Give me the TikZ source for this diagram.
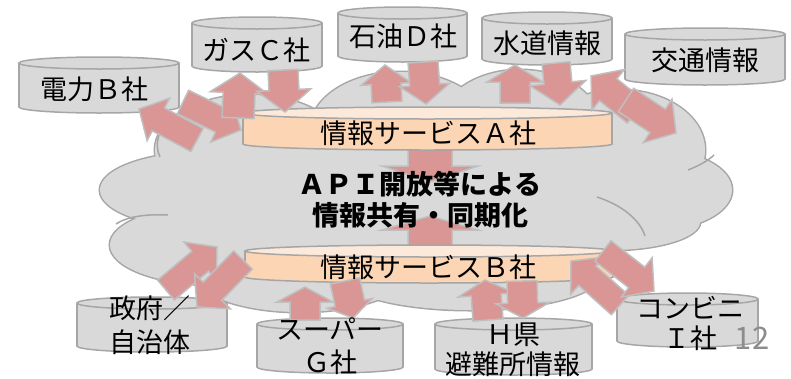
\documentclass[tikz,border=0pt]{standalone}
\usepackage{fontspec}
\setmainfont{Noto Sans CJK JP}
\usetikzlibrary{calc}
\definecolor{cloudfill}{HTML}{D9D9D9}
\definecolor{cloudline}{HTML}{A6A6A6}
\definecolor{arrowfill}{HTML}{D99694}
\definecolor{arrowline}{HTML}{BFBFBF}
\definecolor{orangebody}{HTML}{FCD5B5}
\definecolor{orangetop}{HTML}{FDE9D9}
\definecolor{pagenum}{HTML}{8C8C8C}
\tikzset{
  cylline/.style={draw=cloudline, line width=1.5pt},
  innerarc/.style={draw=cloudline, line width=1.5pt},
  blockarrow/.style={draw=arrowline, fill=arrowfill, line width=1.5pt, line join=miter},
  lbl/.style={inner sep=0pt, align=center, text=black},
}
\newcommand\cyl[6]{%
  \pgfmathsetmacro\ccx{(#1+#3)/2}%
  \pgfmathsetmacro\crx{(#3-#1)/2}%
  \pgfmathsetmacro\cyt{#2+6}%
  \pgfmathsetmacro\cyb{#4-6}%
  \draw[cylline, fill=#5] (\ccx,\cyb) ellipse ({\crx} and {6});
  \fill[#5] (#1,\cyt) rectangle (#3,\cyb);
  \draw[cylline] (#1,\cyt) -- (#1,\cyb) (#3,\cyt) -- (#3,\cyb);
  \draw[cylline, fill=#6] (\ccx,\cyt) ellipse ({\crx} and {6});
}
\newcommand\barrow[5]{%
  \coordinate (bn) at ($(#2)!#5!(#1)$);
  \draw[blockarrow] ($(#1)!#3!90:(#2)$) -- ($(bn)!#3!90:(#2)$) -- ($(bn)!#4!90:(#2)$) -- (#2)
    -- ($(bn)!#4!-90:(#2)$) -- ($(bn)!#3!-90:(#2)$) -- ($(#1)!#3!-90:(#2)$) -- cycle;
}
\begin{document}
\begin{tikzpicture}[x=1pt,y=-1pt, font=\fontsize{27}{30}\selectfont]
\useasboundingbox (0,0) rectangle (791,378);
% cloud
\foreach \ex/\ey/\ea/\eb in {250/150/95/55, 205/190/105/38, 215/245/105/40, 300/270/110/42, 470/275/130/35,
  400/130/90/58, 520/125/80/55, 620/150/85/60, 655/190/77/40, 610/222/90/28, 420/195/250/80}
  \draw[cloudline, line width=3pt] (\ex,\ey) ellipse ({\ea} and {\eb});
\foreach \ex/\ey/\ea/\eb in {250/150/95/55, 205/190/105/38, 215/245/105/40, 300/270/110/42, 470/275/130/35,
  400/130/90/58, 520/125/80/55, 620/150/85/60, 655/190/77/40, 610/222/90/28, 420/195/250/80}
  \fill[cloudfill] (\ex,\ey) ellipse ({\ea} and {\eb});
% inner arcs of the cloud
\coordinate (ia1s) at (160,157); \coordinate (ia1e) at (172,118);
\draw[innerarc] (ia1s) .. controls (154,145) and (158,128) .. (ia1e);
\coordinate (ia2s) at (116,224); \coordinate (ia2e) at (168,215);
\draw[innerarc] (ia2s) .. controls (128,216) and (148,214) .. (ia2e);
\coordinate (ia3s) at (688,170); \coordinate (ia3e) at (714,155);
\draw[innerarc] (ia3s) .. controls (698,166) and (708,161) .. (ia3e);
\coordinate (ia4s) at (597,197); \coordinate (ia4e) at (645,236);
\draw[innerarc] (ia4s) .. controls (622,205) and (640,220) .. (ia4e);
% arrows to/from centre (behind A and B)
\coordinate (cAt) at (430,140); \coordinate (cAh) at (430,182);
\coordinate (cBt) at (430,252); \coordinate (cBh) at (430,216);
\barrow{cAt}{cAh}{22pt}{48pt}{16pt}
\barrow{cBt}{cBh}{22pt}{48pt}{14pt}
% cylinders
\cyl{19}{57}{179}{113}{cloudfill}{cloudfill}
\cyl{192}{17}{322}{72}{cloudfill}{cloudfill}
\cyl{338}{7}{467}{62}{cloudfill}{cloudfill}
\cyl{482}{12}{612}{65}{cloudfill}{cloudfill}
\cyl{625}{28}{785}{85}{cloudfill}{cloudfill}
\cyl{243}{107}{612}{150}{orangebody}{orangetop}
\cyl{245}{245}{613}{283}{orangebody}{orangetop}
\cyl{77}{297}{227}{352}{cloudfill}{cloudfill}
\cyl{257}{318}{403}{373}{cloudfill}{cloudfill}
\cyl{435}{318}{592}{375}{cloudfill}{cloudfill}
\cyl{617}{293}{758}{347}{cloudfill}{cloudfill}
% arrow end points
\coordinate (a1t) at (197,140); \coordinate (a1h) at (139,109);
\coordinate (a2t) at (183,102); \coordinate (a2h) at (241,130);
\coordinate (a3t) at (238,118); \coordinate (a3h) at (240,73);
\coordinate (a4t) at (283,70);  \coordinate (a4h) at (285,112);
\coordinate (a5t) at (387,102); \coordinate (a5h) at (385,65);
\coordinate (a6t) at (423,62);  \coordinate (a6h) at (426,104);
\coordinate (a7t) at (515,103); \coordinate (a7h) at (515,65);
\coordinate (a8t) at (556,63);  \coordinate (a8h) at (560,105);
\coordinate (a9t) at (636,112); \coordinate (a9h) at (591,76);
\coordinate (a10t) at (626,100); \coordinate (a10h) at (676,133);
\coordinate (a12t) at (166,290); \coordinate (a12h) at (217,247);
\coordinate (a13t) at (243,260); \coordinate (a13h) at (197,307);
\coordinate (a14t) at (305,320); \coordinate (a14h) at (305,287);
\coordinate (a15t) at (345,281); \coordinate (a15h) at (353,318);
\coordinate (a16t) at (488,320); \coordinate (a16h) at (485,280);
\coordinate (a17t) at (522,281); \coordinate (a17h) at (523,318);
\coordinate (a18t) at (620,305); \coordinate (a18h) at (571,261);
\coordinate (a19t) at (603,251); \coordinate (a19h) at (654,291);
\barrow{a1t}{a1h}{13pt}{24pt}{22pt}
\barrow{a2t}{a2h}{13pt}{24pt}{22pt}
\barrow{a3t}{a3h}{16pt}{29pt}{20pt}
\barrow{a4t}{a4h}{15pt}{27pt}{22pt}
\barrow{a5t}{a5h}{15pt}{25pt}{19pt}
\barrow{a6t}{a6h}{15pt}{25pt}{19pt}
\barrow{a7t}{a7h}{15pt}{28pt}{17pt}
\barrow{a8t}{a8h}{14pt}{28pt}{22pt}
\barrow{a9t}{a9h}{14pt}{26pt}{22pt}
\barrow{a10t}{a10h}{14pt}{26pt}{22pt}
\barrow{a12t}{a12h}{13pt}{25pt}{22pt}
\barrow{a13t}{a13h}{13pt}{25pt}{22pt}
\barrow{a14t}{a14h}{15pt}{28pt}{15pt}
\barrow{a15t}{a15h}{15pt}{23pt}{15pt}
\barrow{a16t}{a16h}{15pt}{28pt}{15pt}
\barrow{a17t}{a17h}{15pt}{27pt}{15pt}
\barrow{a18t}{a18h}{13pt}{25pt}{22pt}
\barrow{a19t}{a19h}{13pt}{25pt}{22pt}
% labels
\node[lbl] (denryoku) at (94,89) {電力Ｂ社};
\node[lbl] (gas) at (256,50) {ガスＣ社};
\node[lbl] (sekiyu) at (403,36) {石油Ｄ社};
\node[lbl] (suido) at (547,43) {水道情報};
\node[lbl] (kotsu) at (705,60) {交通情報};
\node[lbl] (svA) at (428,133) {情報サービスＡ社};
\node[lbl] (svB) at (428,267) {情報サービスＢ社};
\node[lbl, font=\fontsize{27}{31}\selectfont\bfseries] (api) at (420,200) {ＡＰＩ開放等による\\情報共有・同期化};
\node[lbl, font=\fontsize{27}{34}\selectfont] (seifu) at (150,325) {政府／\\自治体};
\node[lbl, font=\fontsize{27}{33}\selectfont] (super) at (330,346) {スーパー\\Ｇ社};
\node[lbl, font=\fontsize{27}{30}\selectfont] (hken) at (513,350) {Ｈ県\\避難所情報};
\node[lbl, font=\fontsize{27}{30}\selectfont] (konbini) at (690,323) {コンビニ\\Ｉ社};
\node[lbl, text=pagenum, font=\fontsize{31}{34}\selectfont] (pnum) at (752,338) {12};
\end{tikzpicture}
\end{document}
